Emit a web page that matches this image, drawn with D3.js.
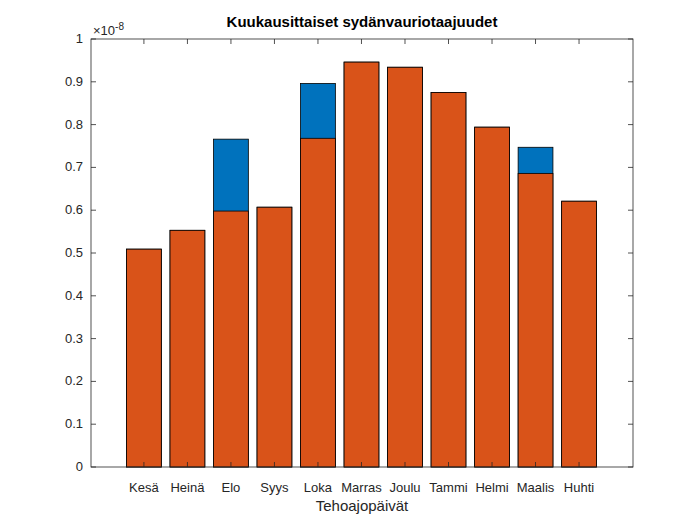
<!DOCTYPE html>
<html><head><meta charset="utf-8">
<script src="https://cdn.jsdelivr.net/npm/d3@7"></script>
<style>body{margin:0;background:#fff}</style></head>
<body><svg id="c" width="700" height="525"></svg>
<script>
const categories=["Kesä","Heinä","Elo","Syys","Loka","Marras","Joulu","Tammi","Helmi","Maalis","Huhti"];
const blueValues=[0.509,0.553,0.766,0.607,0.896,0.946,0.934,0.875,0.794,0.747,0.621];
const orangeValues=[0.509,0.553,0.598,0.607,0.768,0.946,0.934,0.875,0.794,0.686,0.621];
const yTicks=[0,0.1,0.2,0.3,0.4,0.5,0.6,0.7,0.8,0.9,1];
const svg=d3.select("#c");
const L=91,R=633,T=39,B=467;
const x=d3.scaleLinear().domain([-1.216,11.24]).range([L,R]);
const y=d3.scaleLinear().domain([0,1]).range([B,T]);
const bw=(x(1)-x(0))*0.8;
const font="Helvetica, Arial, 'Liberation Sans', sans-serif";
svg.append("rect").attr("x",L).attr("y",T).attr("width",R-L).attr("height",B-T).attr("fill","#fff");
function bars(vals,col){
  svg.append("g").selectAll("rect").data(vals).join("rect")
    .attr("x",(d,i)=>x(i)-bw/2).attr("y",d=>y(d)).attr("width",bw).attr("height",d=>y(0)-y(d))
    .attr("fill",col).attr("stroke","#000").attr("stroke-width",0.8);
}
bars(blueValues,"#0072BD");
bars(orangeValues,"#D95319");
const ax=svg.append("g").attr("stroke","#262626").attr("fill","none").attr("stroke-width",0.8);
ax.append("rect").attr("x",L).attr("y",T).attr("width",R-L).attr("height",B-T);
yTicks.forEach(t=>{
  ax.append("line").attr("x1",L).attr("x2",L+5).attr("y1",y(t)).attr("y2",y(t));
  ax.append("line").attr("x1",R).attr("x2",R-5).attr("y1",y(t)).attr("y2",y(t));
  svg.append("text").attr("x",L-8).attr("y",y(t)+4).attr("text-anchor","end")
    .attr("font-family",font).attr("font-size",13).attr("fill","#262626").text(t===0?"0":t===1?"1":t.toFixed(1));
});
categories.forEach((c,i)=>{
  ax.append("line").attr("x1",x(i)).attr("x2",x(i)).attr("y1",B).attr("y2",B-5);
  ax.append("line").attr("x1",x(i)).attr("x2",x(i)).attr("y1",T).attr("y2",T+5);
  svg.append("text").attr("x",x(i)).attr("y",B+25).attr("text-anchor","middle")
    .attr("font-family",font).attr("font-size",13).attr("fill","#262626").text(c);
});
const ex=svg.append("text").attr("x",L+2).attr("y",T-4).attr("font-family",font).attr("font-size",13).attr("fill","#262626");
ex.append("tspan").text("×10");
ex.append("tspan").attr("dy",-5).attr("font-size",10).text("-8");
svg.append("text").attr("x",(L+R)/2).attr("y",B+44).attr("text-anchor","middle")
  .attr("font-family",font).attr("font-size",15).attr("fill","#262626").text("Tehoajopäivät");
svg.append("text").attr("x",(L+R)/2).attr("y",T-12).attr("text-anchor","middle")
  .attr("font-family",font).attr("font-size",15).attr("font-weight","bold").attr("fill","#000").text("Kuukausittaiset sydänvauriotaajuudet");
</script></body></html>
